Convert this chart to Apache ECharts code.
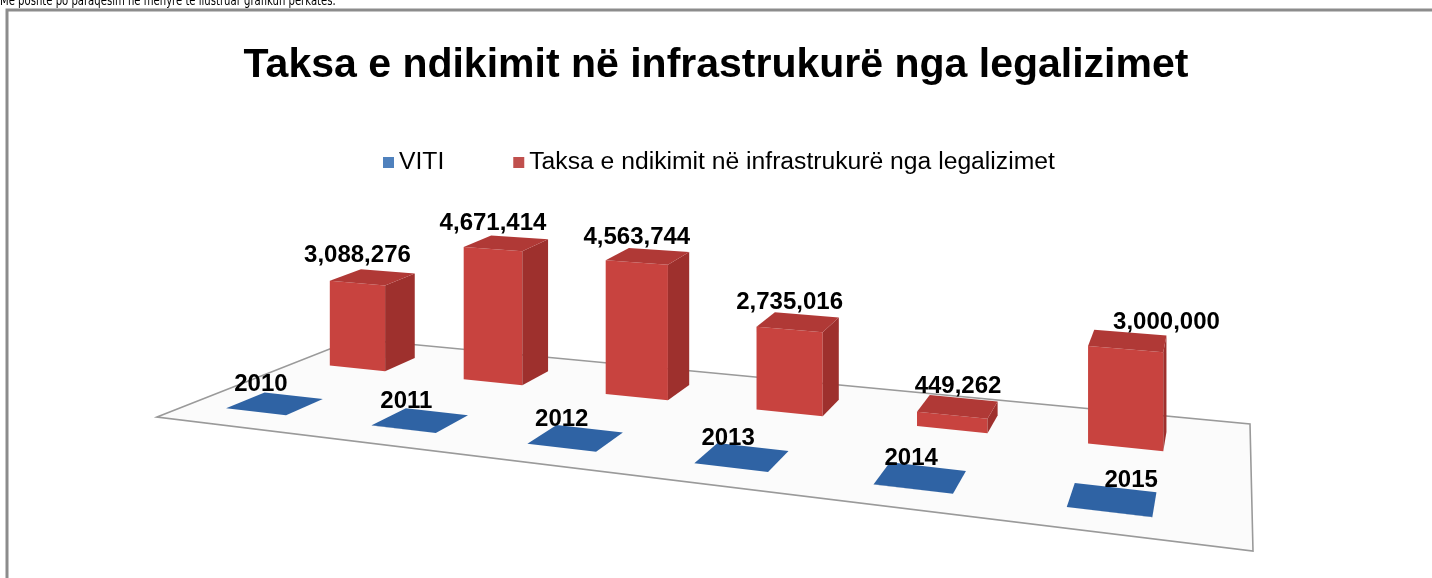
<!DOCTYPE html>
<html>
<head>
<meta charset="utf-8">
<title>Taksa e ndikimit</title>
<script src="https://cdn.jsdelivr.net/npm/echarts@6/dist/echarts.min.js"></script>
<style>
  html, body { margin: 0; padding: 0; background: #fff; }
  #chart { width: 1432px; height: 578px; }
</style>
</head>
<body>
<div id="chart"></div>
<script>
// të dhënat
const years = ['2010', '2011', '2012', '2013', '2014', '2015'];
const vitiValues = [2010, 2011, 2012, 2013, 2014, 2015];
const taksaValues = [3088276, 4671414, 4563744, 2735016, 449262, 3000000];
const seriesNames = ['VITI', 'Taksa e ndikimit në infrastrukurë nga legalizimet'];
const valueMax = 5000000;

// dyshemeja 3D (pamje perspektive), skajet në piksel
const FLOOR = {
  backLeft: [355, 339],
  backRight: [1250, 424],
  frontRight: [1253, 551],
  frontLeft: [157, 417]
};
// hapësira e lirë majtas/djathtas mbi dysheme
const PAD_LEFT = -0.005;
const PAD_RIGHT = 0.03;
const S_WARP = 0.04;
// thellësia e rreshtave: 0 = mbrapa, 1 = përpara
const ROW_DEPTH = [0.77, 0.25];
const BAR_DEPTH = 0.18;
const BAR_FRAC = 0.42;
const HEIGHT_C = 3.46;
const HEIGHT_POW = 0.55;

const COLORS = [
  { legend: '#4F81BD', front: '#24497A', side: '#1E3F6B', top: '#2F63A4' },
  { legend: '#C0504D', front: '#C8433F', side: '#9E302D', top: '#B03936' }
];

/**
 * Homografia katror -> katërkëndësh (Heckbert)
 */
function makeProjection(p0, p1, p2, p3) {
  const sx = p0[0] - p1[0] + p2[0] - p3[0];
  const sy = p0[1] - p1[1] + p2[1] - p3[1];
  const dx1 = p1[0] - p2[0], dx2 = p3[0] - p2[0];
  const dy1 = p1[1] - p2[1], dy2 = p3[1] - p2[1];
  const det = dx1 * dy2 - dx2 * dy1;
  const g = (sx * dy2 - dx2 * sy) / det;
  const h = (dx1 * sy - sx * dy1) / det;
  const a = p1[0] - p0[0] + g * p1[0];
  const b = p3[0] - p0[0] + h * p3[0];
  const d = p1[1] - p0[1] + g * p1[1];
  const e = p3[1] - p0[1] + h * p3[1];
  return function(s, t) {
    const den = g * s + h * t + 1;
    return [(a * s + b * t + p0[0]) / den, (d * s + e * t + p0[1]) / den];
  };
}

const homography = makeProjection(FLOOR.backLeft, FLOOR.backRight, FLOOR.frontRight, FLOOR.frontLeft);

// pak më linear në drejtimin e kategorive (si Excel)
function project(s, t) {
  return homography(s + S_WARP * s * (1 - s), t);
}

// shkalla lokale horizontale (px për njësi s)
function localScale(s, t) {
  const a = project(s - 0.01, t);
  const b = project(s + 0.01, t);
  return Math.hypot(b[0] - a[0], b[1] - a[1]) / 0.02;
}

function lift(s, t, hfrac) {
  const p = project(s, t);
  return [p[0], p[1] - hfrac * HEIGHT_C * Math.pow(localScale(s, t), HEIGHT_POW)];
}

/**
 * Vizaton një kolonë 3D
 */
function renderBar(params, api) {
  const cs = params.coordSys;
  const idx = api.value(0);
  const val = api.value(1);
  const base = api.coord([idx, 0]);
  const top = api.coord([idx, val]);
  const band = api.size([1, 0])[0];

  const span = 1 - PAD_LEFT - PAD_RIGHT;
  const sc = PAD_LEFT + span * (base[0] - cs.x) / cs.width;
  const hw = span * band * BAR_FRAC / 2 / cs.width;
  const hfrac = (base[1] - top[1]) / cs.height;
  const tc = ROW_DEPTH[params.seriesIndex];
  const s0 = sc - hw, s1 = sc + hw;
  const t0 = tc - BAR_DEPTH / 2, t1 = tc + BAR_DEPTH / 2;
  const col = COLORS[params.seriesIndex];
  const isViti = params.seriesIndex === 0;

  const fl = project(s0, t1), fr = project(s1, t1), br = project(s1, t0);
  const flT = lift(s0, t1, hfrac), frT = lift(s1, t1, hfrac);
  const brT = lift(s1, t0, hfrac), blT = lift(s0, t0, hfrac);

  // vendosja e etiketave si në Excel (zhvendosen djathtas në fund)
  const drift = Math.pow(Math.max(0, (sc - 0.55) / 0.35), 3);
  let labelX, labelY;
  if (isViti) {
    const cx = (flT[0] + frT[0] + brT[0] + blT[0]) / 4;
    const cy = (flT[1] + frT[1] + brT[1] + blT[1]) / 4;
    labelX = cx - 14 + 36 * drift;
    labelY = cy - 19;
  } else {
    labelX = (flT[0] + frT[0]) / 2 + 45 * drift;
    labelY = Math.min(blT[1], brT[1]) - 14 + 8 * sc;
  }
  const label = isViti ? String(val) : val.toLocaleString('en-US');

  return {
    type: 'group',
    children: [
      { type: 'polygon', shape: { points: [fl, fr, frT, flT] }, style: { fill: col.front } },
      { type: 'polygon', shape: { points: [fr, br, brT, frT] }, style: { fill: col.side } },
      { type: 'polygon', shape: { points: [flT, frT, brT, blT] }, style: { fill: col.top } },
      {
        type: 'text',
        style: {
          text: label, x: labelX, y: labelY,
          fill: '#000', font: 'bold 24px "Liberation Sans", Arial, sans-serif',
          align: 'center', verticalAlign: 'middle'
        }
      }
    ]
  };
}

const chart = echarts.init(document.getElementById('chart'));

const floorPts = [FLOOR.frontLeft, FLOOR.backLeft, FLOOR.backRight, FLOOR.frontRight];

const option = {
  backgroundColor: '#fff',
  animation: false,
  title: {
    text: seriesNames[1],
    left: 'center',
    top: 40,
    textStyle: { fontFamily: '"Liberation Sans", Arial, sans-serif', fontSize: 41, fontWeight: 'bold', color: '#000' }
  },
  legend: {
    data: seriesNames,
    left: 378,
    top: 145,
    icon: 'rect',
    itemWidth: 11,
    itemHeight: 11,
    itemGap: 69,
    textStyle: { fontFamily: '"Liberation Sans", Arial, sans-serif', fontSize: 24.7, color: '#000' }
  },
  grid: { left: 100, top: 100, width: 1000, height: 300 },
  xAxis: { type: 'category', data: years, show: false },
  yAxis: { type: 'value', min: 0, max: valueMax, show: false },
  graphic: [
    {
      type: 'text', x: 0, y: -6, z: 10, scaleX: 0.8,
      style: { text: 'Më poshtë po paraqesim në mënyrë të ilustruar grafikun përkatës.', font: '14px "Liberation Sans Narrow", "DejaVu Sans Condensed", sans-serif', fill: '#000' }
    },
    {
      type: 'rect', z: 0,
      shape: { x: 7, y: 10, width: 1500, height: 700 },
      style: { fill: 'none', stroke: '#8c8c8c', lineWidth: 3 }
    },
    {
      type: 'polygon', z: 0,
      shape: { points: floorPts },
      style: { fill: '#fbfbfb', stroke: '#9a9a9a', lineWidth: 1.6 }
    }
  ],
  series: [
    {
      name: seriesNames[0], type: 'custom', z: 4,
      itemStyle: { color: COLORS[0].legend },
      renderItem: renderBar,
      encode: { x: 0, y: 1 },
      data: vitiValues.map((v, i) => [i, v])
    },
    {
      name: seriesNames[1], type: 'custom', z: 3,
      itemStyle: { color: COLORS[1].legend },
      renderItem: renderBar,
      encode: { x: 0, y: 1 },
      data: taksaValues.map((v, i) => [i, v])
    }
  ]
};

chart.setOption(option);
</script>
</body>
</html>
